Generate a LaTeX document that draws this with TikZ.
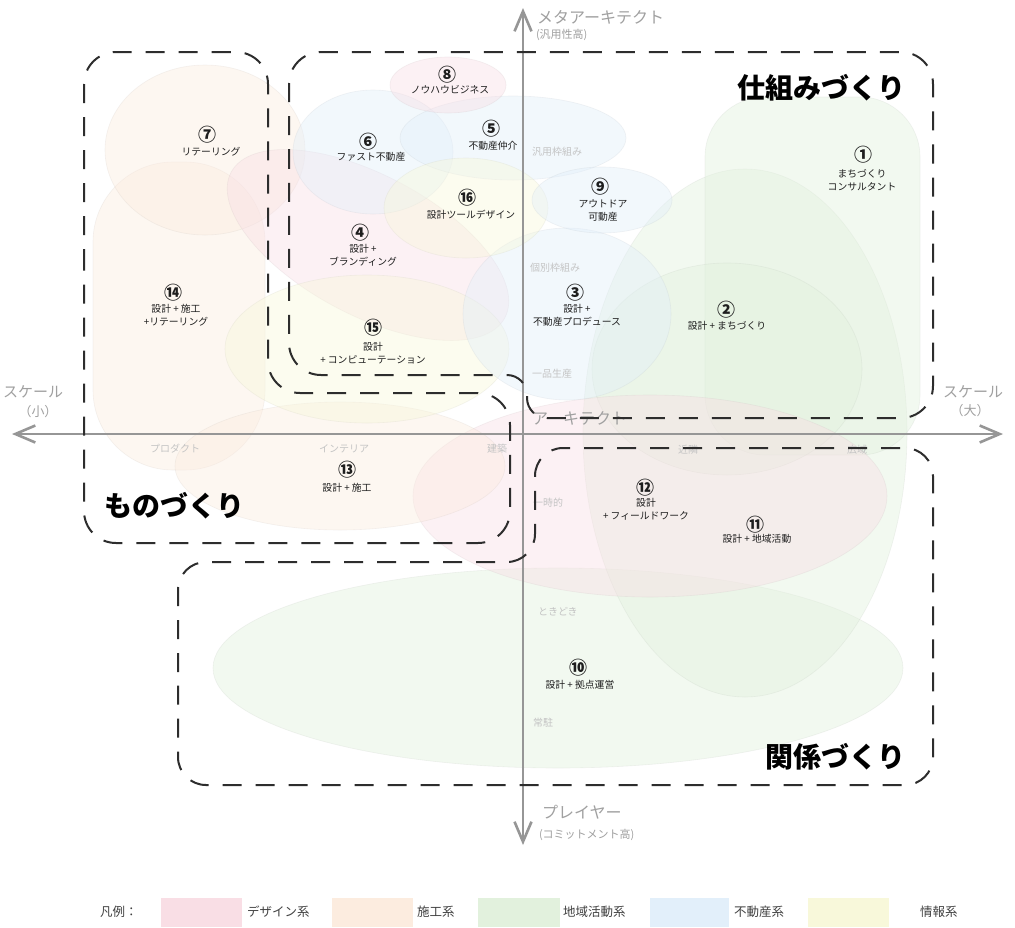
\documentclass[tikz,border=0pt]{standalone}
\usepackage{fontspec}
\newfontfamily\jp{Noto Sans CJK JP}
\usetikzlibrary{arrows.meta}
\definecolor{cpink}{RGB}{249,222,229}
\definecolor{cbeige}{RGB}{252,236,223}
\definecolor{cgreen}{RGB}{226,241,221}
\definecolor{cblue}{RGB}{226,239,250}
\definecolor{cyellow}{RGB}{248,248,218}
\definecolor{dkgray}{RGB}{45,45,45}
\definecolor{axgray}{RGB}{150,150,150}
\definecolor{lblgray}{RGB}{160,160,160}
\definecolor{tickgray}{RGB}{196,196,196}
\definecolor{txt}{RGB}{30,30,30}
\begin{document}
\begin{tikzpicture}[x=1pt,y=-1pt,
  every node/.style={font=\jp, inner sep=0pt, outer sep=0pt},
  blob/.style={fill opacity=0.42, draw opacity=0.2, line width=0.6pt},
  pinkblob/.style={blob, fill=cpink, draw=cpink!60!gray},
  beigeblob/.style={blob, fill=cbeige, draw=cbeige!60!gray},
  greenblob/.style={blob, fill=cgreen, draw=cgreen!60!gray},
  blueblob/.style={blob, fill=cblue, draw=cblue!60!gray},
  yellowblob/.style={blob, fill=cyellow, draw=cyellow!60!gray},
  dbox/.style={draw=dkgray, line width=2pt, dash pattern=on 19pt off 14pt, rounded corners=32pt},
  axis/.style={draw=axgray, line width=2.6pt, <->, >={Straight Barb[length=20pt,width=17pt]}},
  num/.style={font=\jp\bfseries\fontsize{18}{18}\selectfont, text=txt},
  lbl/.style={font=\jp\fontsize{9.8}{13}\selectfont, align=center, text=txt},
  big/.style={font=\jp\bfseries\fontsize{28}{28}\selectfont, text=black},
  axlbl/.style={font=\jp\fontsize{16}{16}\selectfont, text=lblgray},
  axsub/.style={font=\jp\fontsize{11}{11}\selectfont, text=lblgray},
  tick/.style={font=\jp\fontsize{10}{10}\selectfont, text=tickgray},
  legtxt/.style={font=\jp\fontsize{12.5}{12.5}\selectfont, text=txt!85!white, anchor=west},
  legbox/.style={line width=0.5pt}
]
\useasboundingbox (0,0) rectangle (1015,927);
\fill[white] (0,0) rectangle (1015,927);

% ---- blobs ----
\path[greenblob] (558,668) ellipse [x radius=345pt, y radius=100pt];
\path[greenblob] (745,433) ellipse [x radius=162pt, y radius=264pt];
\path[greenblob, rounded corners=60pt] (705,97) rectangle (920,455);
\path[greenblob] (727,369) ellipse [x radius=135pt, y radius=106pt];
\path[pinkblob] (650,496) ellipse [x radius=237pt, y radius=101pt];
\path[beigeblob, rounded corners=80pt] (93,162) rectangle (265,470);
\path[beigeblob] (205,150) ellipse [x radius=100pt, y radius=85pt];
\path[beigeblob] (340,466) ellipse [x radius=165pt, y radius=64pt];
\path[pinkblob, rotate around={-28:(368,245)}] (368,245) ellipse [x radius=155pt, y radius=70pt];
\path[yellowblob] (367,349) ellipse [x radius=142pt, y radius=74pt];
\path[blueblob] (567,314) ellipse [x radius=104pt, y radius=86pt];
\path[blueblob] (373,152) ellipse [x radius=80pt, y radius=62pt];
\path[blueblob] (513,138) ellipse [x radius=113pt, y radius=42pt];
\path[yellowblob] (466,208) ellipse [x radius=82pt, y radius=50pt];
\path[blueblob] (602,200) ellipse [x radius=70pt, y radius=33pt];
\path[pinkblob] (448,85) ellipse [x radius=58pt, y radius=28pt];

% ---- axes ----
\coordinate (axL) at (12,434);
\coordinate (axR) at (1003,434);
\coordinate (axT) at (523,8);
\coordinate (axB) at (523,845);
\draw[axis] (axL) -- (axR);
\draw[axis] (axB) -- (axT);

% ---- axis labels ----
\node[axlbl, anchor=west] (ytop) at (537,17) {メタアーキテクト};
\node[axsub, anchor=west] (ytops) at (536,35) {(汎用性高)};
\node[axlbl, anchor=west] (ymid) at (532,418) {アーキテクト};
\node[axlbl, anchor=west] (ybot) at (542,812) {プレイヤー};
\node[axsub, anchor=west] (ybots) at (539,835) {(コミットメント高)};
\node[axlbl, font=\jp\fontsize{15}{15}\selectfont] (xl) at (33,392) {スケール};
\node[axlbl, font=\jp\fontsize{13}{13}\selectfont] (xls) at (38,412) {（小）};
\node[axlbl, font=\jp\fontsize{15}{15}\selectfont] (xr) at (973,392) {スケール};
\node[axlbl, font=\jp\fontsize{13}{13}\selectfont] (xrs) at (970,411) {（大）};

\node[tick] (t1) at (175,449) {プロダクト};
\node[tick] (t2) at (344,449) {インテリア};
\node[tick] (t3) at (497,449) {建築};
\node[tick] (t4) at (688,450) {近隣};
\node[tick] (t5) at (857,450) {広域};
\node[tick, anchor=west] (v1) at (532,152) {汎用枠組み};
\node[tick, anchor=west] (v2) at (530,268) {個別枠組み};
\node[tick, anchor=west] (v3) at (532,374) {一品生産};
\node[tick, anchor=west] (v4) at (533,503) {一時的};
\node[tick, anchor=west] (v5) at (538,612) {ときどき};
\node[tick, anchor=west] (v6) at (533,723) {常駐};

% ---- dashed groups ----
\draw[dbox] (84,300) -- (84,52) -- (268,52) -- (268,393) -- (510,393) -- (510,543) -- (84,543) -- cycle;
\draw[dbox] (289,200) -- (289,52) -- (933,52) -- (933,418) [rounded corners=20pt] -- (527,418) -- (527,375) [rounded corners=32pt] -- (289,375) -- cycle;
\draw[dbox, rounded corners=28pt] (178,700) -- (178,562) -- (535,562) -- (535,448) -- (933,448) -- (933,785) -- (178,785) -- cycle;

\node[big] (g1) at (821,88) {仕組みづくり};
\node[big] (g2) at (174,506) {ものづくり};
\node[big] (g3) at (835,757) {関係づくり};

% ---- numbered items ----
\node[num] (n1) at (863,155) {①};
\node[lbl] (l1) at (862,180) {まちづくり\\コンサルタント};
\node[num] (n2) at (726,310) {②};
\node[lbl] (l2) at (727,326) {設計 + まちづくり};
\node[num] (n3) at (575,293) {③};
\node[lbl] (l3) at (577,315.5) {設計 +\\不動産プロデュース};
\node[num] (n4) at (360,233) {④};
\node[lbl] (l4) at (363,255.5) {設計 +\\ブランディング};
\node[num] (n5) at (491,129) {⑤};
\node[lbl] (l5) at (493,146) {不動産仲介};
\node[num] (n6) at (368,142) {⑥};
\node[lbl] (l6) at (371,157) {ファスト不動産};
\node[num] (n7) at (207,135) {⑦};
\node[lbl] (l7) at (211,152) {リテーリング};
\node[num] (n8) at (447,75) {⑧};
\node[lbl] (l8) at (450,90) {ノウハウビジネス};
\node[num] (n9) at (600,187) {⑨};
\node[lbl] (l9) at (603,210) {アウトドア\\可動産};
\node[num] (n10) at (578,668) {⑩};
\node[lbl] (l10) at (580,685) {設計 + 拠点運営};
\node[num] (n11) at (755,525) {⑪};
\node[lbl] (l11) at (757,539) {設計 + 地域活動};
\node[num] (n12) at (645,488) {⑫};
\node[lbl] (l12) at (646,509) {設計\\+ フィールドワーク};
\node[num] (n13) at (347,470) {⑬};
\node[lbl] (l13) at (347,488) {設計 + 施工};
\node[num] (n14) at (173,293) {⑭};
\node[lbl] (l14) at (176,315.5) {設計 + 施工\\+リテーリング};
\node[num] (n15) at (373,328) {⑮};
\node[lbl] (l15) at (373,353.5) {設計\\+ コンピューテーション};
\node[num] (n16) at (467,198) {⑯};
\node[lbl] (l16) at (471,215) {設計ツールデザイン};

% ---- legend ----
\node[legtxt] (leg0) at (100,912) {凡例：};
\fill[cpink, legbox] (161,898) rectangle (242,927);
\node[legtxt] (leg1) at (247,912) {デザイン系};
\fill[cbeige, legbox] (332,898) rectangle (413,927);
\node[legtxt] (leg2) at (417,912) {施工系};
\fill[cgreen, legbox] (478,898) rectangle (560,927);
\node[legtxt] (leg3) at (563,912) {地域活動系};
\fill[cblue, legbox] (650,898) rectangle (729,927);
\node[legtxt] (leg4) at (734,912) {不動産系};
\fill[cyellow, legbox] (808,898) rectangle (889,927);
\node[legtxt] (leg5) at (920,912) {情報系};
\end{tikzpicture}
\end{document}
